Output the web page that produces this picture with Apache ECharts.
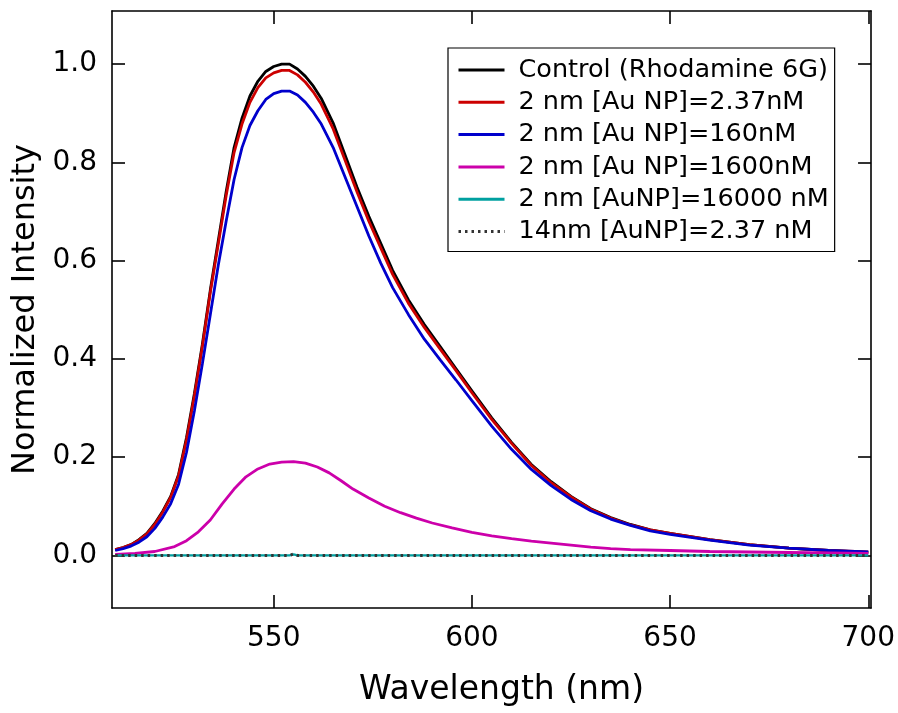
<!DOCTYPE html>
<html>
<head>
<meta charset="utf-8">
<script src="https://cdn.jsdelivr.net/npm/echarts@6/dist/echarts.min.js"></script>
<style>html,body{margin:0;padding:0;background:#fff}#c{width:898px;height:713px}</style>
</head>
<body>
<div id="c"></div>
<script>
// ---- data ----
const seriesNames = [
  'Control (Rhodamine 6G)',
  '2 nm [Au NP]=2.37nM',
  '2 nm [Au NP]=160nM',
  '2 nm [Au NP]=1600nM',
  '2 nm [AuNP]=16000 nM',
  '14nm [AuNP]=2.37 nM'
];
const wl = [510,512,514,516,518,520,522,524,526,528,530,532,534,536,538,540,542,544,546,548,550,552,554,556,558,560,562,565,568,571,574,577,580,584,588,592,596,600,605,610,615,620,625,630,635,640,645,650,660,670,680,690,700];
const control = [0.012,0.016,0.022,0.032,0.045,0.065,0.09,0.12,0.165,0.24,0.33,0.43,0.54,0.64,0.74,0.83,0.89,0.935,0.965,0.985,0.995,1.0,1.0,0.99,0.975,0.955,0.93,0.88,0.815,0.75,0.69,0.635,0.58,0.52,0.47,0.425,0.38,0.335,0.28,0.23,0.185,0.15,0.12,0.095,0.077,0.063,0.052,0.045,0.032,0.022,0.015,0.01,0.006];
const np237 = [0.012,0.016,0.022,0.031,0.044,0.063,0.088,0.118,0.162,0.235,0.325,0.425,0.535,0.633,0.732,0.82,0.878,0.922,0.952,0.972,0.982,0.987,0.987,0.978,0.963,0.943,0.918,0.868,0.804,0.74,0.68,0.626,0.572,0.513,0.464,0.42,0.376,0.331,0.277,0.228,0.183,0.148,0.119,0.094,0.076,0.062,0.052,0.045,0.032,0.022,0.015,0.01,0.007];
const np160 = [0.010,0.014,0.019,0.027,0.038,0.055,0.078,0.105,0.145,0.21,0.295,0.39,0.49,0.59,0.68,0.765,0.83,0.875,0.905,0.928,0.94,0.945,0.945,0.937,0.922,0.902,0.878,0.83,0.77,0.71,0.65,0.595,0.545,0.49,0.44,0.398,0.357,0.315,0.263,0.216,0.175,0.142,0.114,0.091,0.074,0.061,0.05,0.043,0.031,0.021,0.015,0.01,0.007];
const wlMag = [510,515,520,525,528,531,534,537,540,543,546,549,552,555,558,561,564,567,570,574,578,582,586,590,595,600,605,610,615,620,625,630,635,640,650,660,670,680,690,700];
const np1600 = [0.002,0.004,0.008,0.018,0.03,0.048,0.072,0.105,0.135,0.16,0.176,0.186,0.19,0.191,0.188,0.18,0.168,0.152,0.135,0.117,0.1,0.087,0.076,0.066,0.056,0.047,0.04,0.034,0.029,0.025,0.021,0.017,0.014,0.012,0.01,0.008,0.007,0.006,0.005,0.004];
const wlFlat = [510,554,555,556,700];
const np16000 = [0,0,0.002,0,0];
const np14 = [0,0,0.003,0,0];
const xTicks = [550,600,650,700];
const yTicks = [0,0.2,0.4,0.6,0.8,1.0];

const colors = ['#000000','#cc0000','#0000cc','#cc00aa','#00a0a0','#333333'];
const xs = [wl, wl, wl, wlMag, wlFlat, wlFlat];
const ys = [control, np237, np160, np1600, np16000, np14];

const FONT = 'DejaVu Sans';
const pair = (a,b) => a.map((v,i)=>[v,b[i]]);

function axisBase(ticks){
  return {
    axisLine:{show:true,onZero:false,lineStyle:{color:'#000',width:1.6}},
    axisTick:{show:true,inside:true,length:13,customValues:ticks,lineStyle:{color:'#000',width:1.6}},
    splitLine:{show:false}
  };
}

const series = seriesNames.map((n,i)=>({
  name:n, type:'line', data:pair(xs[i],ys[i]), showSymbol:false, symbol:'none',
  smooth:false, animation:false, z: 2+i,
  lineStyle: i===5 ? {color:colors[i],width:3,type:[2.5,4],cap:'butt'}
           : (i===4 ? {color:colors[i],width:2.4} : {color:colors[i],width:2.8}),
  itemStyle:{color:colors[i]}
}));

const chart = echarts.init(document.getElementById('c'));
chart.setOption({
  animation:false,
  backgroundColor:'#fff',
  grid:{left:112,right:25,top:11,bottom:105},
  xAxis:[
    Object.assign(axisBase(xTicks),{type:'value',min:509.2,max:700.7,position:'bottom',
      name:'Wavelength (nm)',nameLocation:'middle',nameGap:66,
      nameTextStyle:{fontFamily:FONT,fontSize:33,color:'#000',padding:[0,0,0,20]},
      axisLabel:{show:true,customValues:xTicks,fontFamily:FONT,fontSize:28,color:'#000',margin:17}}),
    Object.assign(axisBase(xTicks),{type:'value',min:509.2,max:700.7,position:'top',
      axisLabel:{show:false}})
  ],
  yAxis:[
    Object.assign(axisBase(yTicks),{type:'value',min:-0.107,max:1.108,position:'left',
      name:'Normalized Intensity',nameLocation:'middle',nameGap:64,
      nameTextStyle:{fontFamily:FONT,fontSize:32,color:'#000'},
      axisLabel:{show:true,customValues:yTicks,fontFamily:FONT,fontSize:28,color:'#000',margin:15,
        formatter:v=>v.toFixed(1)}}),
    Object.assign(axisBase(yTicks),{type:'value',min:-0.107,max:1.108,position:'right',
      axisLabel:{show:false}})
  ],
  legend:{
    show:true, orient:'vertical', left:448, top:48,
    data:seriesNames.map(n=>({name:n,itemStyle:{opacity:0}})),
    backgroundColor:'#fff', borderColor:'#000', borderWidth:1.2,
    padding:[7,6,5,9], itemGap:2.3, itemWidth:46, itemHeight:14,
    lineStyle:{width:3},
    selectedMode:false,
    textStyle:{fontFamily:FONT,fontSize:25.5,color:'#000',lineHeight:30,padding:[0,0,0,9]}
  },
  series:series
});
</script>
</body>
</html>
